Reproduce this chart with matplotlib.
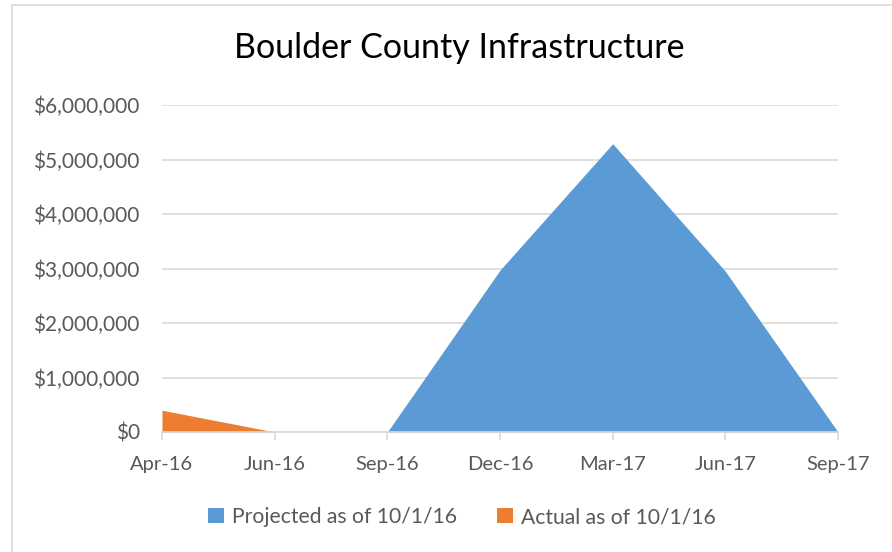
import matplotlib.pyplot as plt
from matplotlib.patches import Rectangle, Patch
from matplotlib.ticker import FuncFormatter

# values
dates = ["Apr-16", "Jun-16", "Sep-16", "Dec-16", "Mar-17", "Jun-17", "Sep-17"]
projected = [0, 0, 0, 2970000, 5290000, 2950000, 0]
actual = [400000, 0, None, None, None, None, None]

blue = "#5b9bd5"
orange = "#ed7d31"
grey_txt = "#595959"
grid_c = "#d9d9d9"

plt.rcParams["font.family"] = ["Lato", "DejaVu Sans"]

fig = plt.figure(figsize=(8.92, 5.52), dpi=100)
ax = fig.add_axes([162 / 892, 1 - 432 / 552, (838 - 162) / 892, (432 - 105) / 552])

x = list(range(len(dates)))
ax.fill_between(x, projected, color=blue, linewidth=0, zorder=2)

act_x = [i for i, v in enumerate(actual) if v is not None]
act_y = [v for v in actual if v is not None]
ax.fill_between(act_x, act_y, color=orange, linewidth=0, zorder=3)

ax.set_xlim(0, len(dates) - 1)
ax.set_ylim(0, 6000000)
ax.set_yticks(range(0, 6000001, 1000000))
ax.yaxis.set_major_formatter(FuncFormatter(lambda v, p: "${:,.0f}".format(v)))
ax.set_xticks(x)
ax.set_xticklabels(dates)

ax.grid(axis="y", color=grid_c, linewidth=1.2, zorder=1)
ax.set_axisbelow(True)
for s in ["left", "right", "top"]:
    ax.spines[s].set_visible(False)
ax.spines["bottom"].set_color(grid_c)
ax.spines["bottom"].set_linewidth(1.2)
ax.spines["bottom"].set_zorder(4)

ax.tick_params(axis="y", length=0, pad=16, labelsize=15, labelcolor=grey_txt)
ax.tick_params(axis="x", length=6, width=1.2, color=grid_c, pad=11,
               labelsize=14.5, labelcolor=grey_txt)

# the chart area is a bit wider than the image, so its centre sits right of middle
cx = 459 / 892
fig.text(cx, 1 - 48 / 552, "Boulder County Infrastructure", ha="center", va="center",
         fontsize=24.5, color="black")

handles = [Patch(facecolor=blue, edgecolor="none", label="Projected as of 10/1/16"),
           Patch(facecolor=orange, edgecolor="none", label="Actual as of 10/1/16")]
fig.legend(handles=handles, loc="center", bbox_to_anchor=(462 / 892, 1 - 517 / 552), ncol=2,
           frameon=False, fontsize=15.2, labelcolor=grey_txt, handlelength=0.75,
           handleheight=0.75, handletextpad=0.4, columnspacing=1.9)

# chart area border
fig.patches.append(Rectangle((12 / 892, -0.05), 1.1, 1 - 5 / 552 + 0.05, transform=fig.transFigure,
                             fill=False, edgecolor="#d9d9d9", linewidth=1.2))

fig.savefig("out.png", dpi=100)
